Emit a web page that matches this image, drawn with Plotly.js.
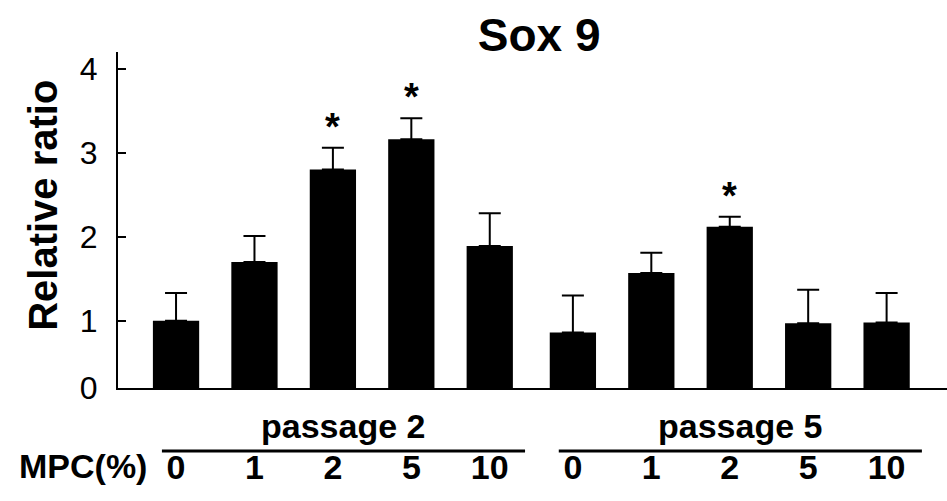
<!DOCTYPE html>
<html>
<head>
<meta charset="utf-8">
<script src="https://cdn.plot.ly/plotly-3.0.1.min.js"></script>
<style>html,body{margin:0;padding:0;background:#fff;}#chart{width:947px;height:501px;}</style>
</head>
<body>
<div id="chart"></div>
<script>
// ---- data ----
var chartTitle = "Sox 9";
var yTitle = "Relative ratio";
var xLabelTitle = "MPC(%)";
var groups = ["passage 2", "passage 5"];
var mpcLabels = ["0", "1", "2", "5", "10"];
var passage2Values = [1.00, 1.70, 2.80, 3.16, 1.89];
var passage2Errors = [0.33, 0.31, 0.26, 0.25, 0.39];
var passage2Signif = [false, false, true, true, false];
var passage5Values = [0.86, 1.57, 2.12, 0.97, 0.98];
var passage5Errors = [0.44, 0.24, 0.12, 0.40, 0.35];
var passage5Signif = [false, false, true, false, false];
var yTickVals = [0.2, 1, 2, 3, 4];
var yTickText = ["0", "1", "2", "3", "4"];

// ---- layout helpers ----
var groupGap = 0.06;
var values = [passage2Values, passage5Values];
var errors = [passage2Errors, passage5Errors];
var signif = [passage2Signif, passage5Signif];

var xs = [], ys = [], es = [], tickVals = [], tickText = [];
var annotations = [], shapes = [];
var FONT = "Liberation Sans, Arial, sans-serif";

groups.forEach(function (g, gi) {
  var start = gi * (mpcLabels.length + groupGap);
  mpcLabels.forEach(function (lab, i) {
    var x = start + i;
    xs.push(x); ys.push(values[gi][i]); es.push(errors[gi][i]);
    tickVals.push(x); tickText.push("<b>" + lab + "</b>");
    if (signif[gi][i]) {
      annotations.push({
        x: x, y: values[gi][i] + errors[gi][i], xref: "x", yref: "y",
        text: "<b>*</b>", showarrow: false, yanchor: "bottom", yshift: -2,
        font: { family: FONT, size: 38, color: "#000" }
      });
    }
  });
  var x0 = start - 0.18, x1 = start + mpcLabels.length - 1 + 0.45;
  shapes.push({
    type: "line", xref: "x", yref: "paper", x0: x0, x1: x1, y0: -0.1875, y1: -0.1875,
    line: { color: "#000", width: 3 }
  });
  annotations.push({
    x: (x0 + x1) / 2, y: -0.175, xref: "x", yref: "paper",
    text: "<b>" + g + "</b>", showarrow: false, xanchor: "center", yanchor: "bottom",
    font: { family: FONT, size: 34, color: "#000" }
  });
});

annotations.push({
  x: -0.042, y: -0.232, xref: "paper", yref: "paper", xanchor: "center", yanchor: "middle",
  text: "<b>" + xLabelTitle + "</b>", showarrow: false,
  font: { family: FONT, size: 34, color: "#000" }
});
annotations.push({
  x: -0.0905, y: 0.545, xref: "paper", yref: "paper", xanchor: "center", yanchor: "middle",
  text: "<b>" + yTitle + "</b>", showarrow: false, textangle: -90,
  font: { family: "Liberation Sans Narrow, Arial Narrow, sans-serif", size: 40, color: "#000" }
});

var trace = {
  type: "bar", x: xs, y: ys, width: 0.59,
  marker: { color: "#000", line: { width: 0 } },
  error_y: { type: "data", array: es, arrayminus: es.map(function () { return 0; }),
             symmetric: false, visible: true, color: "#000", thickness: 2, width: 11 },
  hoverinfo: "none"
};

var layout = {
  width: 947, height: 501,
  margin: { l: 118, r: 0, t: 52, b: 113, pad: 0 },
  paper_bgcolor: "#fff", plot_bgcolor: "#fff",
  showlegend: false,
  title: { text: "<b>" + chartTitle + "</b>", x: 0.508, xref: "paper", xanchor: "center",
           y: 0.93, yref: "container", yanchor: "middle",
           font: { family: FONT, size: 46, color: "#000" } },
  xaxis: {
    range: [-0.74, 9.83], showgrid: false, zeroline: false,
    showline: true, linecolor: "#000", linewidth: 2,
    tickvals: tickVals, ticktext: tickText, ticks: "",
    tickfont: { family: FONT, size: 34, color: "#000" },
    ticklabelstandoff: 48
  },
  yaxis: {
    range: [0.2, 4.2], showgrid: false, zeroline: false,
    showline: true, linecolor: "#000", linewidth: 2,
    ticks: "inside", ticklen: 8, tickwidth: 2, tickcolor: "#000",
    tickvals: yTickVals, ticktext: yTickText,
    tickfont: { family: FONT, size: 32, color: "#000" },
    ticklabelstandoff: 12
  },
  shapes: shapes,
  annotations: annotations
};

Plotly.newPlot("chart", [trace], layout, { staticPlot: true, displayModeBar: false });
</script>
</body>
</html>
